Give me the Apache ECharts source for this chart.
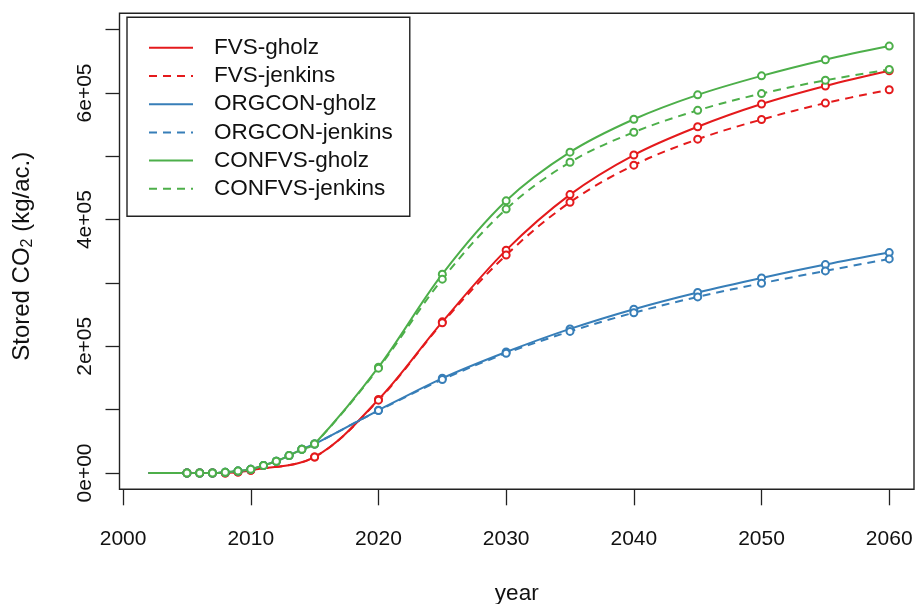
<!DOCTYPE html>
<html>
<head>
<meta charset="utf-8">
<script src="https://cdn.jsdelivr.net/npm/echarts@6/dist/echarts.min.js"></script>
<style>
  html, body { margin: 0; padding: 0; background: #fff; }
  #chart { width: 917px; height: 604px; }
</style>
</head>
<body>
<div id="chart"></div>
<script>
// Simulation years (annual until 2015, then every five years)
var yearsEarly = [2002, 2005, 2006, 2007, 2008, 2009, 2010];
var yearsAnnual = [2002, 2005, 2006, 2007, 2008, 2009, 2010, 2011, 2012, 2013, 2014, 2015];
var yearsLate = [2020, 2025, 2030, 2035, 2040, 2045, 2050, 2055, 2060];

// Stored CO2 (kg/ac.)
var fvsEarly = [0, 0, 0, 0, 0, 1500, 4300];
var fvsGholz = [25300, 116000, 238600, 351800, 439500, 502000, 546600, 582500, 611000, 635000];
var fvsJenkins = [25300, 115000, 237000, 344000, 427500, 486000, 527000, 558000, 584000, 605000];

var sharedEarly = [0, 0, 0, 0, 1000, 3000, 5800, 12000, 18500, 27500, 37400, 45800];
var orgconGholz = [99000, 149500, 191000, 227500, 258600, 285000, 308000, 329000, 348000];
var orgconJenkins = [98500, 147500, 189000, 223500, 253000, 278000, 299500, 319000, 338000];
var confvsGholz = [167000, 313900, 429700, 506500, 558500, 597000, 627000, 652500, 674000];
var confvsJenkins = [165500, 306000, 416600, 490600, 538000, 572500, 599000, 620000, 637000];

// Axis ticks and labels
var xTicks = [2000, 2010, 2020, 2030, 2040, 2050, 2060];
var yTicks = [0, 100000, 200000, 300000, 400000, 500000, 600000, 700000];
var yLabels = [0, 200000, 400000, 600000];

var RED = '#E41A1C', BLUE = '#377EB8', GREEN = '#4DAF4A';
var FONT = '"Liberation Sans", Arial, Helvetica, sans-serif';

function pairs(xs, ys) {
  return xs.map(function (x, i) {
    var item = { value: [x, ys[i]] };
    if (x === 2002) item.symbol = 'none';
    return item;
  });
}

function fvsData(late) {
  return pairs(yearsEarly.concat([2015]).concat(yearsLate), fvsEarly.concat(late));
}
function sharedData(late) {
  return pairs(yearsAnnual.concat(yearsLate), sharedEarly.concat(late));
}

function makeSeries(name, data, color, dashed) {
  return {
    name: name,
    type: 'line',
    data: data,
    smooth: 0.35,
    symbol: 'emptyCircle',
    symbolSize: 7,
    showAllSymbol: true,
    color: color,
    itemStyle: { color: color, borderColor: color, borderWidth: 1.3 },
    lineStyle: { color: color, width: 2, type: dashed ? [8, 6] : 'solid' },
    emphasis: { disabled: true },
    animation: false
  };
}

var chart = echarts.init(document.getElementById('chart'), null, { renderer: 'canvas' });

chart.setOption({
  backgroundColor: '#fff',
  animation: false,
  grid: {
    show: true,
    left: 119.5,
    top: 13.3,
    width: 794.5,
    height: 476,
    containLabel: false,
    outerBoundsMode: 'none',
    borderColor: '#222',
    borderWidth: 1.4,
    backgroundColor: 'transparent'
  },
  legend: {
    orient: 'vertical',
    left: 127,
    top: 17.3,
    padding: [19, 17, 16, 21],
    itemWidth: 44,
    itemHeight: 20,
    itemGap: 5.2,
    borderColor: '#222',
    borderWidth: 1.4,
    backgroundColor: '#fff',
    itemStyle: { opacity: 0 },
    textStyle: { fontFamily: FONT, fontSize: 22.5, color: '#111', padding: [0, 0, 0, 16] },
    selectedMode: false
  },
  xAxis: {
    type: 'value',
    min: 1999.72,
    max: 2061.94,
    name: 'year',
    nameLocation: 'middle',
    nameGap: 93,
    nameTextStyle: { fontFamily: FONT, fontSize: 22.5, color: '#111' },
    axisLine: { show: false, onZero: false },
    splitLine: { show: false },
    axisTick: {
      show: true,
      customValues: xTicks,
      length: 16,
      lineStyle: { color: '#222', width: 1.3 }
    },
    axisLabel: {
      customValues: xTicks,
      margin: 39,
      fontFamily: FONT,
      fontSize: 21,
      color: '#111',
      formatter: function (v) { return String(v); }
    }
  },
  yAxis: {
    type: 'value',
    min: -25750,
    max: 725750,
    name: 'Stored CO{sub|2} (kg/ac.)',
    nameLocation: 'middle',
    nameRotate: 90,
    nameGap: 84,
    nameTextStyle: {
      fontFamily: FONT,
      fontSize: 24,
      color: '#111',
      padding: [0, 10, 0, 0],
      rich: {
        sub: { fontFamily: FONT, fontSize: 16, color: '#111', verticalAlign: 'bottom', padding: [11, 0, 0, 0] }
      }
    },
    axisLine: { show: false, onZero: false },
    splitLine: { show: false },
    axisTick: {
      show: true,
      customValues: yTicks,
      length: 14,
      lineStyle: { color: '#222', width: 1.3 }
    },
    axisLabel: {
      customValues: yLabels,
      rotate: 90,
      margin: 24,
      fontFamily: FONT,
      fontSize: 21,
      color: '#111',
      formatter: function (v) {
        if (v === 0) return '0e+00';
        return Math.round(v / 100000) + 'e+05';
      }
    }
  },
  series: [
    makeSeries('FVS-gholz', fvsData(fvsGholz), RED, false),
    makeSeries('FVS-jenkins', fvsData(fvsJenkins), RED, true),
    makeSeries('ORGCON-gholz', sharedData(orgconGholz), BLUE, false),
    makeSeries('ORGCON-jenkins', sharedData(orgconJenkins), BLUE, true),
    makeSeries('CONFVS-gholz', sharedData(confvsGholz), GREEN, false),
    makeSeries('CONFVS-jenkins', sharedData(confvsJenkins), GREEN, true)
  ]
});
</script>
</body>
</html>
